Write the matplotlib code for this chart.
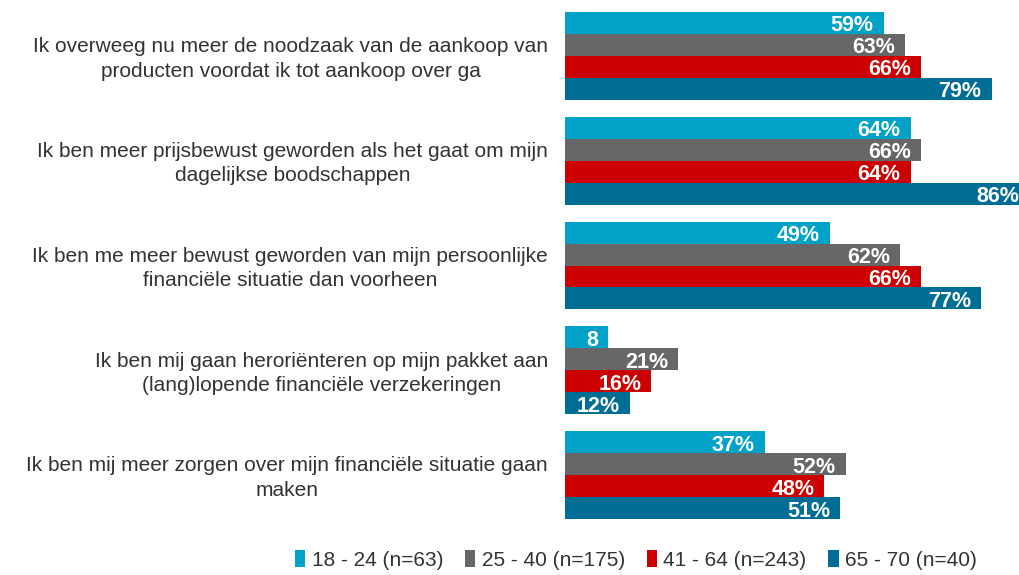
import matplotlib
matplotlib.use("Agg")
import matplotlib.pyplot as plt
from matplotlib import font_manager as fm
from matplotlib.patches import Patch

names = {f.name for f in fm.fontManager.ttflist}
FONT = "Liberation Sans Narrow" if "Liberation Sans Narrow" in names else "Liberation Sans"
plt.rcParams["font.family"] = [FONT, "DejaVu Sans"]

categories = [
    "Ik overweeg nu meer de noodzaak van de aankoop van\nproducten voordat ik tot aankoop over ga",
    "Ik ben meer prijsbewust geworden als het gaat om mijn\ndagelijkse boodschappen",
    "Ik ben me meer bewust geworden van mijn persoonlijke\nfinanciële situatie dan voorheen",
    "Ik ben mij gaan heroriënteren op mijn pakket aan\n(lang)lopende financiële verzekeringen",
    "Ik ben mij meer zorgen over mijn financiële situatie gaan\nmaken",
]
series = ["18 - 24 (n=63)", "25 - 40 (n=175)", "41 - 64 (n=243)", "65 - 70 (n=40)"]
values = [
    [59, 64, 49, 8, 37],
    [63, 66, 62, 21, 52],
    [66, 64, 66, 16, 48],
    [79, 86, 77, 12, 51],
]
value_labels = [
    ["59%", "64%", "49%", "8", "37%"],
    ["63%", "66%", "62%", "21%", "52%"],
    ["66%", "64%", "66%", "16%", "48%"],
    ["79%", "86%", "77%", "12%", "51%"],
]
colors = ["#00A2C8", "#676767", "#CC0000", "#006E94"]

W, H = 1020, 575
fig = plt.figure(figsize=(W / 100, H / 100), dpi=100)
ax_left, ax_right = 565, 1020
ax_top, ax_bot = 12, 519
ax = fig.add_axes([ax_left / W, (H - ax_bot) / H, (ax_right - ax_left) / W, (ax_bot - ax_top) / H])

px_per_pct = 5.4
ax.set_xlim(0, (ax_right - ax_left) / px_per_pct)
h = 22 / 105
ax.set_ylim(4 + 2 * h, -2 * h)

for j, (s, c) in enumerate(zip(series, colors)):
    ys = [i + (j - 1.5) * h for i in range(len(categories))]
    bars = ax.barh(ys, values[j], height=h, color=c, label=s, clip_on=False)
    for b, lab in zip(bars, value_labels[j]):
        ax.annotate(lab, (b.get_width(), b.get_y() + b.get_height() / 2),
                    xytext=(-10, -3), textcoords="offset pixels",
                    ha="right", va="center", color="white", fontsize=15.5,
                    fontweight="bold", annotation_clip=False)

for i, cat in enumerate(categories):
    ax.annotate(cat, (0, i), xytext=(-17, -3), textcoords="offset pixels",
                ha="right", va="center", multialignment="center",
                fontsize=15, color="#333333", linespacing=1.35,
                annotation_clip=False)

ax.axis("off")

handles = [Patch(facecolor=c, edgecolor="none") for c in colors]
fig.legend(handles, series, loc="center", bbox_to_anchor=(636 / W, 1 - 560 / H),
           ncol=4, frameon=False, fontsize=15, handlelength=0.5, handleheight=0.9,
           handletextpad=0.3, columnspacing=1.05, labelcolor="#333333")

fig.savefig("out.png", dpi=100)
